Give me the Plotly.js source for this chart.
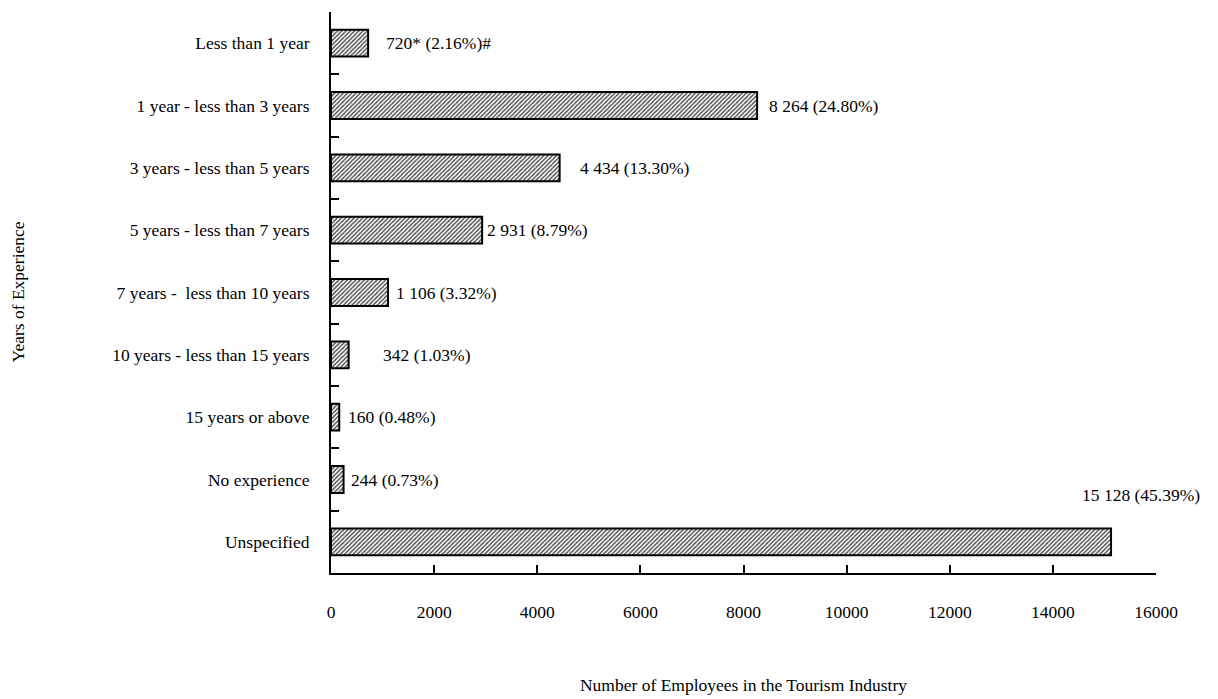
<!DOCTYPE html>
<html>
<head>
<meta charset="utf-8">
<script src="https://cdn.plot.ly/plotly-3.0.1.min.js"></script>
<style>html,body{margin:0;padding:0;background:#fff;}#chart{width:1218px;height:699px;}</style>
</head>
<body>
<div id="chart"></div>
<script>
const categories = [
  "Less than 1 year",
  "1 year - less than 3 years",
  "3 years - less than 5 years",
  "5 years - less than 7 years",
  "7 years -  less than 10 years",
  "10 years - less than 15 years",
  "15 years or above",
  "No experience",
  "Unspecified"
];
const employees = [720, 8264, 4434, 2931, 1106, 342, 160, 244, 15128];
const labels = [
  "720* (2.16%)#",
  "8 264 (24.80%)",
  "4 434 (13.30%)",
  "2 931 (8.79%)",
  "1 106 (3.32%)",
  "342 (1.03%)",
  "160 (0.48%)",
  "244 (0.73%)",
  "15 128 (45.39%)"
];
const xTicks = [0, 2000, 4000, 6000, 8000, 10000, 12000, 14000, 16000];

// label placement (style only)
const labelXShift = [16, 10, 18, 3, 6, 32, 7, 5, 91];
const labelYShift = [0, 0, 0, 0, 0, 0, 0, 0, 47];
const labelAnchor = ["left","left","left","left","left","left","left","left","right"];

const font = {family: "Liberation Serif, Times New Roman, serif", size: 17.5, color: "#000"};

const trace = {
  type: "bar",
  orientation: "h",
  y: categories,
  x: employees,
  marker: {
    color: "white",
    line: {color: "#000", width: 2},
    pattern: {shape: "/", size: 3, solidity: 0.45, fgcolor: "#444", bgcolor: "white", fillmode: "replace"}
  },
  hoverinfo: "none"
};

const annotations = categories.map((c, i) => ({
  x: employees[i], y: c, xref: "x", yref: "y",
  text: labels[i], showarrow: false,
  xanchor: labelAnchor[i], yanchor: "middle",
  xshift: labelXShift[i], yshift: labelYShift[i],
  font: font
}));
annotations.push({
  xref: "paper", yref: "paper", x: -0.3806, y: 0.5,
  xanchor: "center", yanchor: "middle", textangle: -90,
  text: "Years of Experience", showarrow: false, font: font
});

const layout = {
  width: 1218, height: 699,
  margin: {l: 331, r: 62, t: 12, b: 126},
  paper_bgcolor: "white", plot_bgcolor: "white",
  font: font,
  showlegend: false,
  bargap: 0.57,
  xaxis: {
    range: [0, 16000],
    tickvals: xTicks, ticktext: xTicks.map(String),
    showgrid: false, zeroline: false,
    showline: true, linecolor: "#000", linewidth: 2,
    ticks: "inside", ticklen: 8, tickwidth: 2, tickcolor: "#000",
    ticklabelstandoff: 22,
    tickfont: font,
    title: {text: "Number of Employees in the Tourism Industry", font: font, standoff: 58}
  },
  yaxis: {
    type: "category",
    range: [8.5, -0.5],
    tickson: "boundaries",
    showgrid: false, zeroline: false,
    showline: true, linecolor: "#000", linewidth: 2,
    ticks: "inside", ticklen: 8, tickwidth: 2, tickcolor: "#000",
    ticklabelstandoff: 16,
    tickfont: font
  },
  annotations: annotations
};

Plotly.newPlot("chart", [trace], layout, {displayModeBar: false, staticPlot: true});
</script>
</body>
</html>
